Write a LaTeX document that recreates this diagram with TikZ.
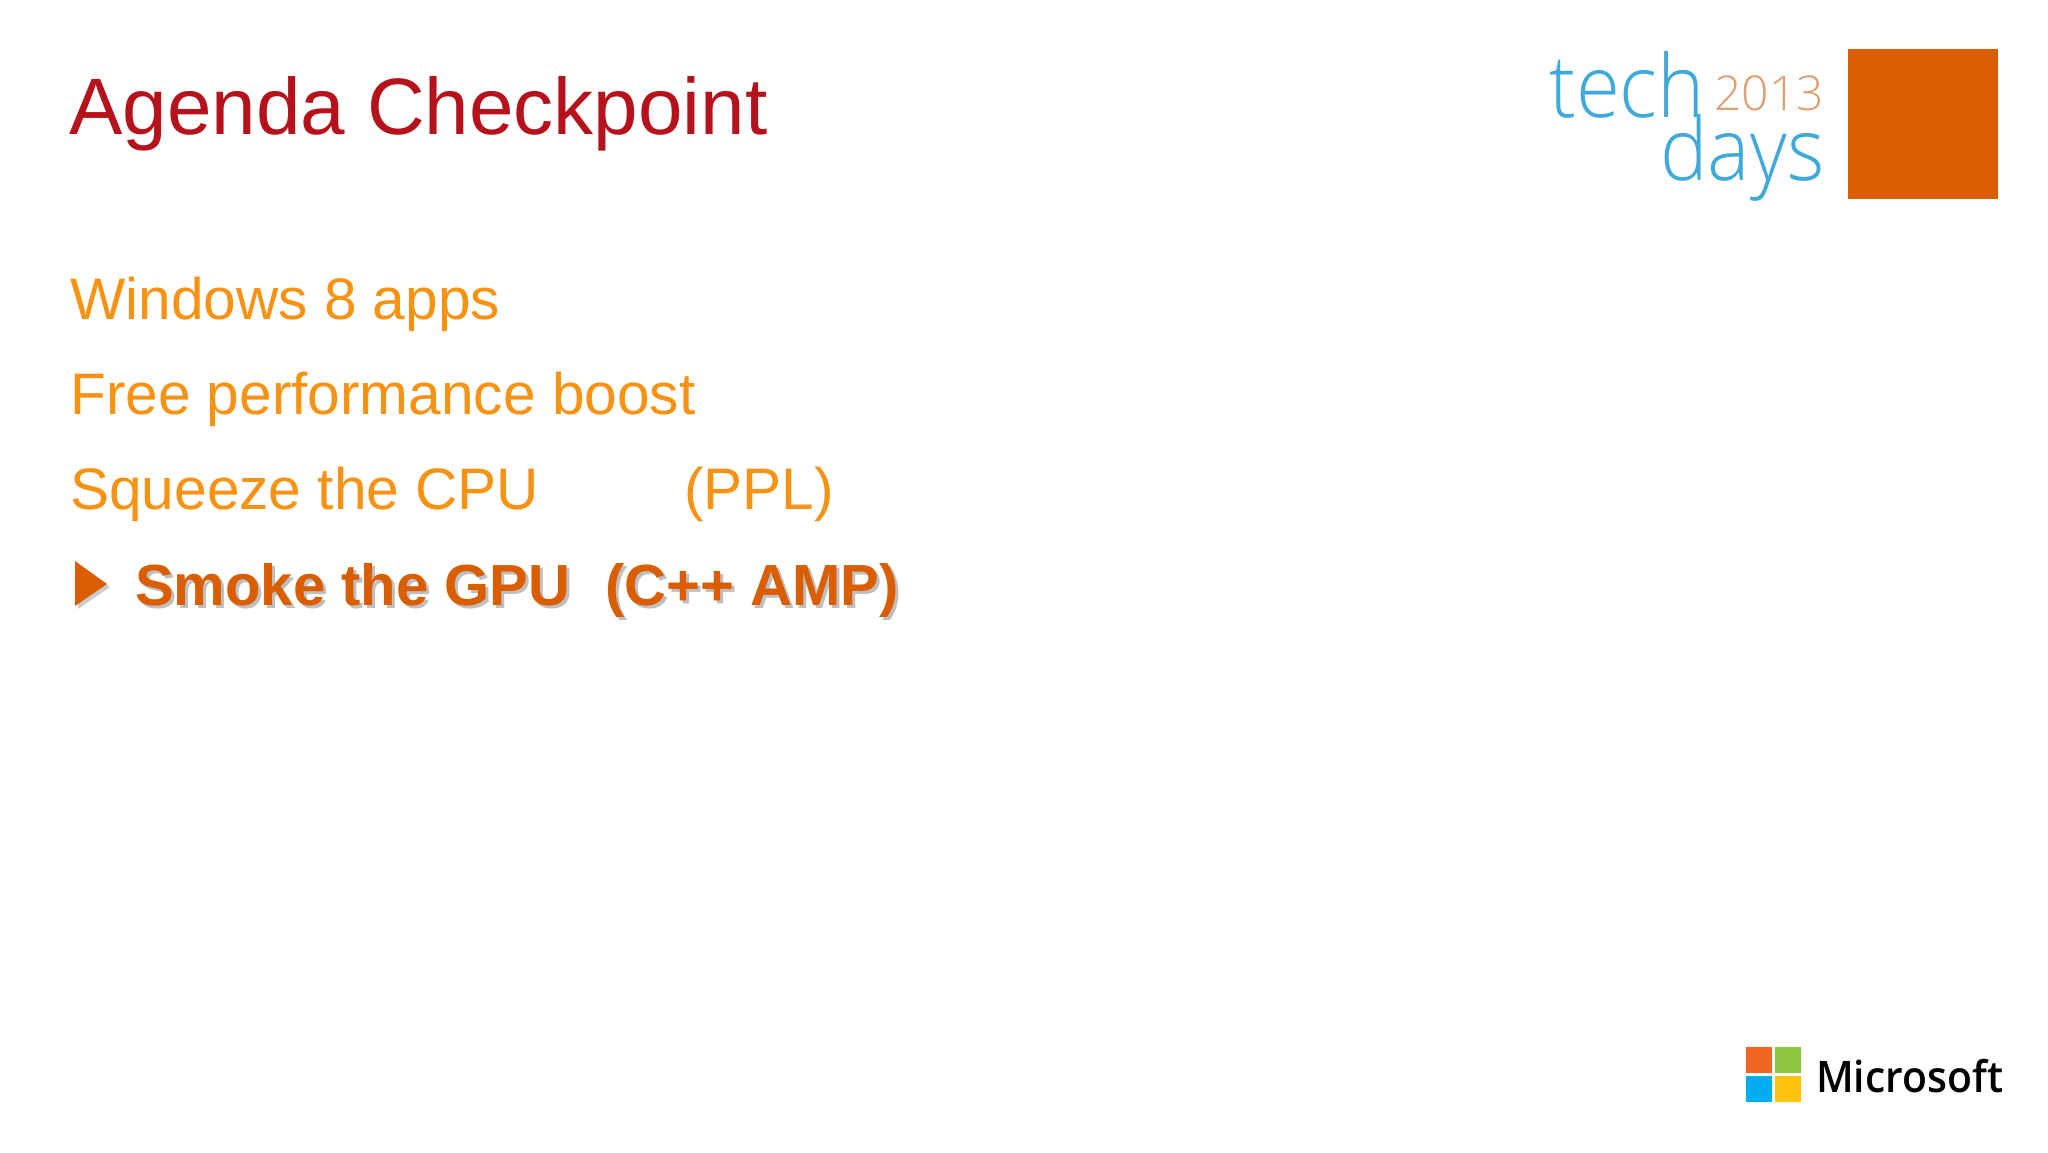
\documentclass[tikz,border=0pt]{standalone}
\usepackage{fontspec}
\usetikzlibrary{positioning}
\setmainfont{Liberation Sans}
\newfontfamily\logofont{Open Sans Light}[FakeStretch=0.92]
\newfontfamily\yearfont{Open Sans Light}
\newfontfamily\msfont{Open Sans Semibold}[FakeStretch=0.94]
\definecolor{titlered}{HTML}{B5121B}
\definecolor{itemorange}{HTML}{F79212}
\definecolor{smokeorange}{HTML}{DA5D00}
\definecolor{techblue}{HTML}{3FA9DC}
\definecolor{yearbrown}{HTML}{DE9F73}
\tikzset{
	titletext/.style={anchor=base west, inner sep=0pt, text=titlered, font=\fontsize{80}{96}\selectfont},
	itemtext/.style={anchor=base west, inner sep=0pt, text=itemorange, font=\fontsize{58.6}{70}\selectfont},
	smoketext/.style={anchor=base west, inner sep=0pt, text=smokeorange, font=\bfseries\fontsize{58}{70}\selectfont},
	smokeshade/.style={smoketext, text=black, text opacity=0.25},
	logotext/.style={anchor=base west, inner sep=0pt, text=techblue, font=\logofont\fontsize{87}{87}\selectfont},
	yeartext/.style={anchor=base west, inner sep=0pt, text=yearbrown, font=\yearfont\fontsize{48}{48}\selectfont},
	mstext/.style={anchor=base west, inner sep=0pt, text=black, font=\msfont\fontsize{43.5}{44}\selectfont},
	tile/.style={inner sep=0pt, minimum width=26pt, minimum height=26pt}
}
\begin{document}
\begin{tikzpicture}[x=1pt, y=-1pt]
	\useasboundingbox (0,0) rectangle (2048,1152);
	\fill[white] (0,0) rectangle (2048,1152);
	\node[titletext] (title) at (69,134) {Agenda Checkpoint};
	\node[itemtext] (windows) at (70,319) {Windows 8 apps};
	\node[itemtext] (free) at (70,414) {Free performance boost};
	\node[itemtext] (squeeze) at (70,509) {Squeeze the CPU};
	\node[itemtext] (ppl) at (684,509) {(PPL)};
	% shadow first, then the text
	\node[smokeshade] (gpushade) at (138,608) {Smoke the GPU\hspace{35pt}(C++ AMP)};
	\node[smoketext] (gpu) at (135,605) {Smoke the GPU\hspace{35pt}(C++ AMP)};
	\fill[black, opacity=0.2] (78,564) -- (110,587) -- (78,609) -- cycle;
	\fill[smokeorange] (75,561) -- (107,584) -- (75,606) -- cycle;
	% logo
	\node[logotext] (tech) at (1549,117) {tech};
	\node[logotext] (days) at (1660,180) {days};
	\node[yeartext] (year) at (1714,110) {2013};
	\node[fill=smokeorange, anchor=north west, inner sep=0pt, minimum width=150pt, minimum height=150pt] (square) at (1848,49) {};
	% windows flag
	\node[tile, anchor=north west, fill={rgb,255:red,243;green,101;blue,34}] (tilea) at (1746,1047) {};
	\node[tile, fill={rgb,255:red,141;green,198;blue,63}, right=2pt of tilea] (tileb) {};
	\node[tile, fill={rgb,255:red,0;green,174;blue,239}, below=2pt of tilea] (tilec) {};
	\node[tile, fill={rgb,255:red,255;green,194;blue,14}, right=2pt of tilec] (tiled) {};
	\node[mstext] (ms) at (1816,1092) {Microsoft};
\end{tikzpicture}
\end{document}
